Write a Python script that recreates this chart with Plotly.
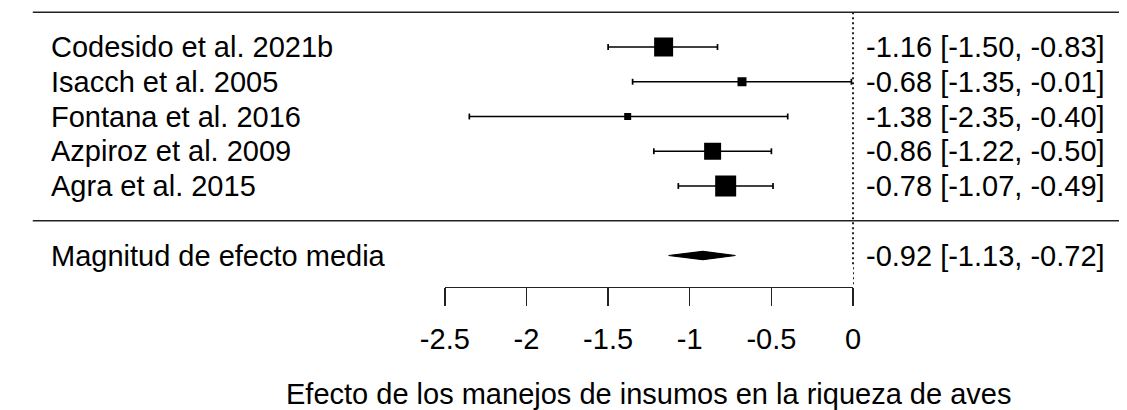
import plotly.graph_objects as go

# ---- data ----
studies = ["Codesido et al. 2021b", "Isacch et al. 2005", "Fontana et al. 2016",
           "Azpiroz et al. 2009", "Agra et al. 2015"]
est = [-1.16, -0.68, -1.38, -0.86, -0.78]
ci_lo = [-1.50, -1.35, -2.35, -1.22, -1.07]
ci_hi = [-0.83, -0.01, -0.40, -0.50, -0.49]
summary_label = "Magnitud de efecto media"
summary_est = -0.92
summary_lo = -1.13
summary_hi = -0.72
tick_vals = [-2.5, -2, -1.5, -1, -0.5, 0]
tick_text = ["-2.5", "-2", "-1.5", "-1", "-0.5", "0"]
xlab = "Efecto de los manejos de insumos en la riqueza de aves"

# ---- styles ----
W, H = 1127, 410
px_per_unit = 168.2
x_zero_px = 853
xr = [(0 - x_zero_px) / px_per_unit, (W - x_zero_px) / px_per_unit]
row_pitch = 34.75
row1_px = 186
yr = [1 - (H - row1_px) / row_pitch, 1 + row1_px / row_pitch]
marker_sizes = [19, 9, 7, 17, 21]
FONT = "Liberation Sans, Arial, sans-serif"
FS = 29
k = len(studies)
rows = list(range(k, 0, -1))
y_sum = -1
axis_px = 287
axis_row = 1 - (axis_px - row1_px) / row_pitch
cap = 0.085
left_px, right_px = 8, W
xl = (left_px - x_zero_px) / px_per_unit
xrgt = (right_px - x_zero_px) / px_per_unit

fig = go.Figure()

# horizontal separators
fig.add_trace(go.Scatter(x=[xl, xrgt, None, xl, xrgt], y=[k + 1, k + 1, None, 0, 0],
                         mode="lines", line=dict(color="#222", width=1.4),
                         hoverinfo="skip", showlegend=False))
# reference line at 0
fig.add_trace(go.Scatter(x=[0, 0], y=[k + 1, axis_row], mode="lines",
                         line=dict(color="#222", width=2, dash="2px,3px"),
                         hoverinfo="skip", showlegend=False))
# CI lines and caps
cx, cy = [], []
for r, lo, hi in zip(rows, ci_lo, ci_hi):
    cx += [lo, hi, None, lo, lo, None, hi, hi, None]
    cy += [r, r, None, r - cap, r + cap, None, r - cap, r + cap, None]
fig.add_trace(go.Scatter(x=cx, y=cy, mode="lines", line=dict(color="black", width=1.7),
                         hoverinfo="skip", showlegend=False))
# squares
fig.add_trace(go.Scatter(x=est, y=rows, mode="markers",
                         marker=dict(symbol="square", size=marker_sizes, color="black",
                                     opacity=1, line=dict(width=0, color="black")),
                         hoverinfo="skip", showlegend=False))
# summary diamond
dh = 0.12
fig.add_trace(go.Scatter(x=[summary_lo, summary_est, summary_hi, summary_est, summary_lo],
                         y=[y_sum, y_sum + dh, y_sum, y_sum - dh, y_sum],
                         mode="lines", fill="toself", fillcolor="black",
                         line=dict(color="black", width=1.2),
                         hoverinfo="skip", showlegend=False))

# labels
lab_x = (25 - x_zero_px) / px_per_unit
val_x = (1115 - x_zero_px) / px_per_unit
for r, s, e, lo, hi in zip(rows, studies, est, ci_lo, ci_hi):
    fig.add_annotation(x=lab_x, y=r, text=s, xanchor="left", yanchor="middle",
                       showarrow=False, font=dict(size=FS, color="black", family=FONT))
    fig.add_annotation(x=val_x, y=r, text=f"{e:.2f} [{lo:.2f}, {hi:.2f}]",
                       xanchor="right", yanchor="middle", showarrow=False,
                       font=dict(size=FS, color="black", family=FONT))
fig.add_annotation(x=lab_x, y=y_sum, text=summary_label, xanchor="left", yanchor="middle",
                   showarrow=False, font=dict(size=FS, color="black", family=FONT))
fig.add_annotation(x=val_x, y=y_sum,
                   text=f"{summary_est:.2f} [{summary_lo:.2f}, {summary_hi:.2f}]",
                   xanchor="right", yanchor="middle", showarrow=False,
                   font=dict(size=FS, color="black", family=FONT))

# visible axis (x2) spanning -2.5..0
d0 = (x_zero_px - 2.5 * px_per_unit) / W
d1 = x_zero_px / W
ybot = 1 - axis_px / H
fig.add_trace(go.Scatter(x=[-2.5, 0], y=[0, 0], xaxis="x2", yaxis="y2", mode="markers",
                         marker=dict(opacity=0), hoverinfo="skip", showlegend=False))
fig.add_annotation(x=-1.25, xref="x2", y=1 - 394 / H, yref="paper", text=xlab,
                   showarrow=False, xanchor="center", yanchor="middle",
                   font=dict(size=FS, color="black", family=FONT))

fig.update_layout(
    width=W, height=H, margin=dict(l=0, r=0, t=0, b=0),
    plot_bgcolor="white", paper_bgcolor="white",
    xaxis=dict(range=xr, domain=[0, 1], visible=False, fixedrange=True),
    yaxis=dict(range=yr, domain=[0, 1], visible=False, fixedrange=True),
    xaxis2=dict(range=[-2.5, 0], domain=[d0, d1], anchor="y2", showline=True,
                linecolor="#222", linewidth=1.4, ticks="outside", ticklen=18,
                tickwidth=1.4, tickcolor="#222", tickvals=tick_vals, ticktext=tick_text,
                showgrid=False, zeroline=False, ticklabelstandoff=8,
                tickfont=dict(size=FS, color="black", family=FONT)),
    yaxis2=dict(domain=[ybot, ybot + 0.05], anchor="x2", visible=False, range=[0, 1]),
    showlegend=False,
)

fig.write_html("out.html", post_script="document.body.style.margin='0';",
               config={"displayModeBar": False, "staticPlot": True})
